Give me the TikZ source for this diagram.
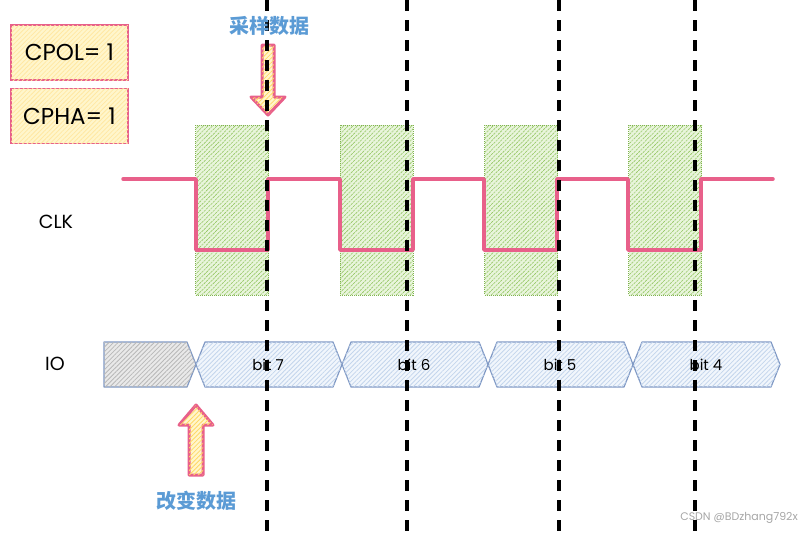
\documentclass[tikz,border=0pt]{standalone}
\usepackage{fontspec}
\setmainfont{Poppins}
\newfontfamily\cjk{Noto Sans CJK SC}
\usetikzlibrary{patterns.meta}
\definecolor{pinkc}{HTML}{E8608A}
\definecolor{yelfill}{HTML}{FFF6CC}
\definecolor{yelhatch}{HTML}{FFD866}
\definecolor{grnfill}{HTML}{E9F5DC}
\definecolor{grnhatch}{HTML}{98C868}
\definecolor{grnline}{HTML}{7FB24E}
\definecolor{busfill}{HTML}{F1F6FC}
\definecolor{bushatch}{HTML}{C3D5EC}
\definecolor{busline}{HTML}{7F98C4}
\definecolor{grayfill}{HTML}{E9E9E9}
\definecolor{grayhatch}{HTML}{B8B8B8}
\definecolor{bluetxt}{HTML}{5B9BD5}
\tikzset{
  hatchfill/.style 2 args={fill=#1, postaction={pattern={Lines[angle=45,distance=3.2pt,line width=0.8pt]}, pattern color=#2}},
  infobox/.style={draw=pinkc, line width=1.6pt, hatchfill={yelfill}{yelhatch!60}, minimum width=117pt, minimum height=55pt, font=\fontsize{23}{26}\selectfont, inner sep=0pt},
  samplebox/.style={draw=grnline, line width=1pt, densely dotted, hatchfill={grnfill}{grnhatch}, minimum width=73pt, minimum height=170pt, inner sep=0pt},
  clkline/.style={draw=pinkc, line width=3.5pt, line join=round, line cap=round},
  busseg/.style={draw=busline, line width=1.2pt, line join=round, hatchfill={busfill}{bushatch}},
  grayseg/.style={draw=busline, line width=1.2pt, line join=round, hatchfill={grayfill}{grayhatch}},
  bigarrow/.style={draw=pinkc, line width=3pt, line join=round, hatchfill={yelfill}{yelhatch}},
  dashline/.style={draw=black, line width=3.5pt, dash pattern=on 11pt off 9pt},
  siglbl/.style={font=\fontsize{19}{22}\selectfont, inner sep=0pt},
  bitlbl/.style={font=\fontsize{15}{18}\selectfont, inner sep=0pt},
  cjklbl/.style={font=\cjk\bfseries\fontsize{20}{24}\selectfont, text=bluetxt, inner sep=0pt},
  wmark/.style={font=\fontsize{11}{13}\selectfont, text=black!35, inner sep=0pt}
}
\begin{document}
\begin{tikzpicture}[x=1pt,y=-1pt]
\useasboundingbox (0,0) rectangle (802,533);
% info boxes
\node[infobox] (cpol) at (69.5,52.5) {CPOL= 1};
\node[infobox] (cpha) at (69.5,116) {CPHA= 1};
% sampling windows
\node[samplebox] (s1) at (232,210) {};
\node[samplebox] (s2) at (376.5,210) {};
\node[samplebox] (s3) at (521,210) {};
\node[samplebox] (s4) at (665,210) {};
% clock waveform
\draw[clkline] (123,179) -- (196,179) -- (196,250) -- (268,250) -- (268,179)
  -- (340,179) -- (340,250) -- (413,250) -- (413,179)
  -- (484,179) -- (484,250) -- (557,250) -- (557,179)
  -- (628,179) -- (628,250) -- (701,250) -- (701,179) -- (773,179);
% labels
\node[siglbl] (clk) at (56,222) {CLK};
\node[siglbl] (io) at (55,364) {IO};
% IO bus
\draw[grayseg] (104,342) -- (187,342) -- (196,364.5) -- (187,387) -- (104,387) -- cycle;
\draw[busseg] (196,364.5) -- (205,342) -- (333,342) -- (342,364.5) -- (333,387) -- (205,387) -- cycle;
\draw[busseg] (342,364.5) -- (351,342) -- (479,342) -- (488,364.5) -- (479,387) -- (351,387) -- cycle;
\draw[busseg] (488,364.5) -- (497,342) -- (624,342) -- (633,364.5) -- (624,387) -- (497,387) -- cycle;
\draw[busseg] (633,364.5) -- (642,342) -- (771,342) -- (780,364.5) -- (771,387) -- (642,387) -- cycle;
\node[bitlbl] (b7) at (268,365) {bit 7};
\node[bitlbl] (b6) at (414,365) {bit 6};
\node[bitlbl] (b5) at (560,365) {bit 5};
\node[bitlbl] (b4) at (706,365) {bit 4};
% arrows
\draw[bigarrow] (262,45) -- (274,45) -- (274,97) -- (285,97) -- (268,115) -- (251,97) -- (262,97) -- cycle;
\draw[bigarrow] (189,475) -- (203,475) -- (203,425) -- (213,425) -- (196,405) -- (179,425) -- (189,425) -- cycle;
% dashed sampling lines
\draw[dashline] (267,0) -- (267,533);
\draw[dashline] (407,0) -- (407,533);
\draw[dashline] (559,0) -- (559,533);
\draw[dashline] (695,0) -- (695,533);
% texts
\node[cjklbl] (samp) at (269,26) {采样数据};
\node[cjklbl] (chg) at (196,501) {改变数据};
\node[wmark, anchor=east] (wm) at (798,518) {CSDN @BDzhang792x};
\end{tikzpicture}
\end{document}
